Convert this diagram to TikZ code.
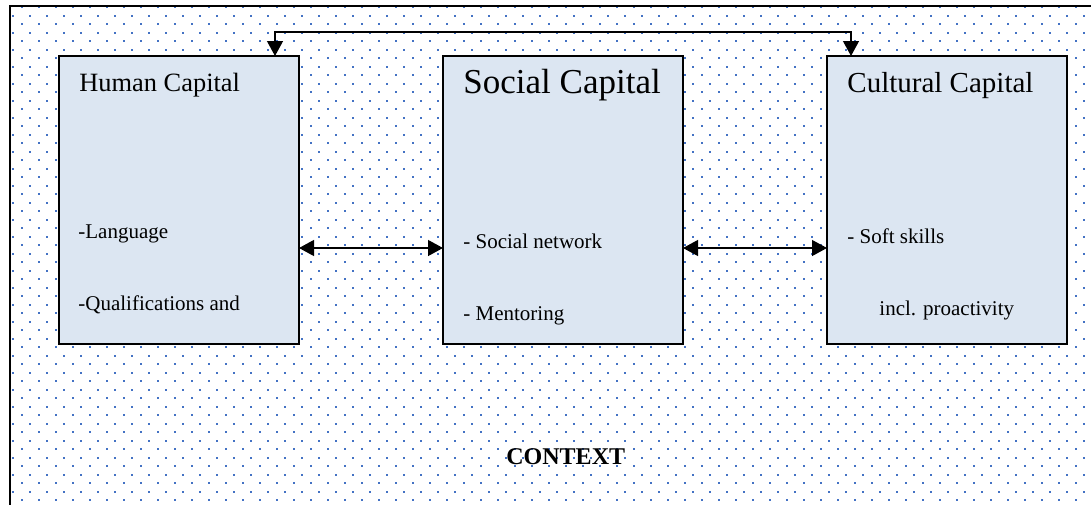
\documentclass[tikz,border=0pt]{standalone}
\usepackage{fontspec}
\setmainfont{Liberation Serif}
\usetikzlibrary{arrows.meta}
\definecolor{cap-fill}{HTML}{DCE6F2}
\definecolor{cap-dot}{HTML}{4472C4}

\begin{document}
\begin{tikzpicture}[x=0.5pt, y=-0.5pt,
  text only/.style={inner sep=0pt, anchor=base west},
  capbox/.style={draw, line width=1pt, fill=cap-fill, minimum width=120pt,
    minimum height=144pt, inner sep=0pt, outer sep=0pt},
  link/.style={line width=0.6pt,
    {Triangle[length=7.5pt,width=8pt]}-{Triangle[length=7.5pt,width=8pt]}}]
\useasboundingbox (0,0) rectangle (1091,504);
\clip (0,0) rectangle (1091,504);
\begin{scope}
\clip (10,6) rectangle (1091,504);
\foreach \j in {0,...,29} {
  \foreach \i in {0,...,63} {
    \fill[cap-dot] (20.7+17*\i, 8+17*\j) rectangle ++(2,-2);
    \fill[cap-dot] (12.2+17*\i, 16.5+17*\j) rectangle ++(2,-2);
  }
}
\end{scope}
\draw[line width=1pt] (10,6) rectangle (1101,514);
\foreach \x/\name in {179/human, 563/social, 947/cultural}
  \node[capbox] (\name) at (\x,200) {};
\node[text only, font=\fontsize{13.2}{16}\selectfont]
  (human-title) at (79,91) {Human Capital};
\node[text only, font=\fontsize{17.5}{21}\selectfont]
  (social-title) at (463,93) {Social Capital};
\node[text only, font=\fontsize{14.5}{17}\selectfont]
  (cultural-title) at (847,92) {Cultural Capital};
\foreach \name/\x/\y/\item in {
    language/78/238/-Language,
    qualif/78/310/-Qualifications and,
    network/463/248/- Social network,
    mentor/463/320/- Mentoring,
    soft/847/243/- Soft skills,
    proact/879/315/incl. proactivity} {
  \node[text only, font=\fontsize{10.5}{13}\selectfont]
    (item-\name) at (\x,\y) {\item};
}
\node[text only, font=\bfseries\fontsize{12}{14}\selectfont]
  (context) at (506,464) {CONTEXT};
\coordinate (mid) at (0,248);
\coordinate (top) at (563,32);
\coordinate (h-up) at (275,0);
\coordinate (c-up) at (851,0);
\draw[link] (human.east |- mid) -- (social.west |- mid);
\draw[link] (social.east |- mid) -- (cultural.west |- mid);
\draw[link] (human.north -| h-up) |- (top) -| (cultural.north -| c-up);
\end{tikzpicture}
\end{document}
